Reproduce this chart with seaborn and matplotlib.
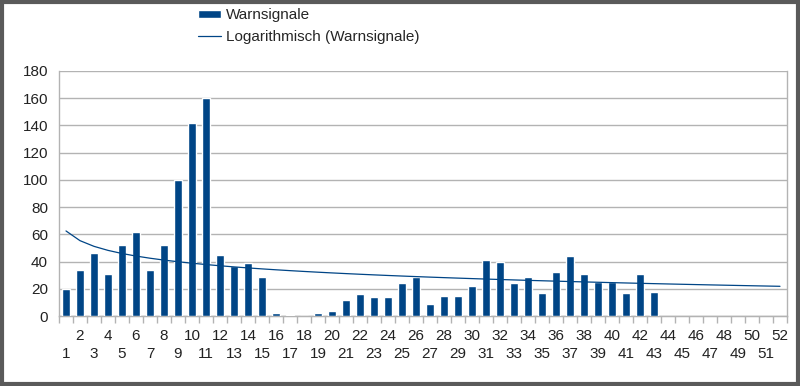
import numpy as np
import pandas as pd
import matplotlib
matplotlib.use("Agg")
import matplotlib.pyplot as plt
from matplotlib.patches import Rectangle
import seaborn as sns

# weekly warning signals (weeks 44-52 have no data)
weeks = list(range(1, 53))
warnsignale = [20, 34, 46, 31, 52, 62, 34, 52, 100, 142,
               160, 45, 37, 39, 29, 2, 1, 0, 2, 4,
               12, 16, 14, 14, 24, 29, 9, 15, 15, 22,
               41, 40, 24, 29, 17, 32, 44, 31, 25, 25,
               17, 31, 18]
y_ticks = [0, 20, 40, 60, 80, 100, 120, 140, 160, 180]

bar_color = "#004586"
grid_color = "#b3b3b3"
text_color = "#222222"

vals = warnsignale + [np.nan] * (len(weeks) - len(warnsignale))
df = pd.DataFrame({"week": [str(w) for w in weeks], "value": vals})

# logarithmic trend, as in the spreadsheet (fit on the weeks that have data)
xw = np.arange(1, len(warnsignale) + 1)
b, a = np.polyfit(np.log(xw), warnsignale, 1)
trend = pd.DataFrame({"pos": np.arange(len(weeks)),
                      "value": a + b * np.log(np.array(weeks))})

sns.set_style("white")
plt.rcParams["font.family"] = ["Liberation Sans", "DejaVu Sans"]

fig = plt.figure(figsize=(8, 3.86), dpi=100)
ax = fig.add_axes([59 / 800, 70 / 386, 728 / 800, 245 / 386])

sns.barplot(data=df, x="week", y="value", order=df["week"], color=bar_color,
            width=0.55, saturation=1, ax=ax, label="Warnsignale", zorder=3)
sns.lineplot(data=trend, x="pos", y="value", color=bar_color, lw=0.9, ax=ax,
             label="Logarithmisch (Warnsignale)", zorder=4)

ax.set_xlim(-0.5, len(weeks) - 0.5)
ax.set_ylim(0, 180)
ax.set_yticks(y_ticks)
ax.yaxis.grid(True, color=grid_color, lw=1)
ax.set_axisbelow(True)
ax.set_xlabel("")
ax.set_ylabel("")

# odd weeks on the lower row, even weeks on the upper row
pos = np.arange(len(weeks))
ax.set_xticks(pos[0::2])
ax.set_xticklabels([str(w) for w in weeks[0::2]])
ax.set_xticks(pos[1::2], minor=True)
ax.set_xticklabels([str(w) for w in weeks[1::2]], minor=True)
ax.tick_params(axis="x", which="major", length=0, pad=22, labelsize=11, labelcolor=text_color)
ax.tick_params(axis="x", which="minor", length=0, pad=9, labelsize=11, labelcolor=text_color)
ax.tick_params(axis="y", length=5, color=grid_color, labelsize=11, labelcolor=text_color, pad=3)

# category boundary ticks
sec = ax.secondary_xaxis("bottom")
sec.set_xticks(np.arange(-0.5, len(weeks)))
sec.set_xticklabels([])
sec.tick_params(length=5, color=grid_color, width=1)
sec.spines["bottom"].set_color(grid_color)

for s in ["left", "right", "bottom"]:
    ax.spines[s].set_color(grid_color)
    ax.spines[s].set_linewidth(1)
ax.spines["top"].set_visible(False)

h, l = ax.get_legend_handles_labels()
order = [l.index("Warnsignale"), l.index("Logarithmisch (Warnsignale)")]
ax.legend([h[i] for i in order], [l[i] for i in order],
          loc="upper left", bbox_to_anchor=(190 / 800, 1.0), bbox_transform=fig.transFigure,
          frameon=False, fontsize=11, handlelength=1.5, handleheight=0.5,
          labelspacing=0.5, handletextpad=0.3, borderaxespad=0.15)

fig.patches.append(Rectangle((0.002, 0.004), 0.996, 0.992, transform=fig.transFigure,
                             fill=False, edgecolor="#5a5a5a", lw=3))

fig.savefig("out.png", dpi=100)
